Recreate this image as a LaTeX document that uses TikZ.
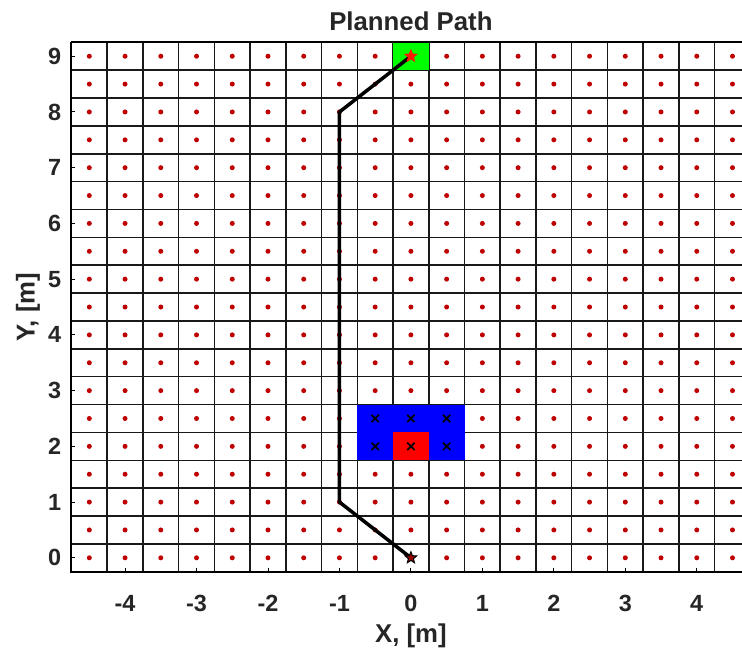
\documentclass[tikz,border=0pt]{standalone}
\usepackage{fontspec}
\setmainfont{Liberation Sans}
\usetikzlibrary{shapes.geometric}

\definecolor{obstblue}{RGB}{0,0,255}
\definecolor{obstred}{RGB}{255,0,0}
\definecolor{goalgreen}{RGB}{0,255,0}
\definecolor{axisgray}{RGB}{38,38,38}

\begin{document}
\begin{tikzpicture}[
  x=2.1438cm, y=1.6719cm,
  gridline/.style={draw=black!90, line width=1.3pt},
  celldot/.style={fill=red!75!black},
  crossmark/.style={draw=black, line width=1.5pt},
  pathline/.style={draw=black, line width=3pt, line join=round},
  ticklabel/.style={font=\fontsize{20}{20}\selectfont\bfseries, text=axisgray, inner sep=0pt},
  axislabel/.style={font=\fontsize{22}{22}\selectfont\bfseries, text=axisgray, inner sep=0pt},
  starmark/.style={star, star points=5, star point ratio=2.3, minimum size=0.36cm,
                   inner sep=0pt, line width=0.9pt}
]
\useasboundingbox (-5.75,-1.726) rectangle (4.633,10.009);
\fill[white] (-5.75,-1.726) rectangle (4.633,10.009);

\begin{scope}
\clip (-5.75,-1.726) rectangle (4.633,10.009);
% cell borders
\foreach \k in {0,...,19}{
  \draw[gridline] (-4.75+0.5*\k,-0.25) -- (-4.75+0.5*\k,9.25);
  \draw[gridline] (-4.75,-0.25+0.5*\k) -- (4.75,-0.25+0.5*\k);
}
% cell centres
\foreach \i in {-9,...,9}
  \foreach \j in {0,...,18}
    \fill[celldot] (0.5*\i,0.5*\j) circle[radius=0.075cm];
% occupied and goal cells
\fill[obstblue] (-0.75,1.75) rectangle (0.75,2.75);
\fill[obstred] (-0.25,1.75) rectangle (0.25,2.25);
\fill[goalgreen] (-0.25,8.75) rectangle (0.25,9.25);
\foreach \cx/\cy in {-0.5/2.5, 0/2.5, 0.5/2.5, -0.5/2, 0/2, 0.5/2}
  \draw[crossmark] (\cx,\cy) +(-0.11cm,-0.11cm) -- +(0.11cm,0.11cm)
                   (\cx,\cy) +(-0.11cm,0.11cm) -- +(0.11cm,-0.11cm);
% frame
\draw[black, line width=1.7pt] (-4.75,9.25) -- (-4.75,-0.25) -- (4.75,-0.25);
\draw[black, line width=1.4pt] (-4.75,9.25) -- (4.75,9.25);
\end{scope}

% ticks
\foreach \t in {-4,...,4}{
  \draw[black, line width=0.8pt] (\t,-0.25) -- ++(0,0.12cm);
  \node[ticklabel] (xt\t) at (\t,-0.81) {\t};
}
\foreach \t in {0,...,9}{
  \draw[black, line width=0.8pt] (-4.75,\t) -- ++(0.12cm,0);
  \node[ticklabel, anchor=east] (yt\t) at (-4.89,\t) {\t};
}

% planned path
\coordinate (start) at (0,0);
\coordinate (turn1) at (-1,1);
\coordinate (turn2) at (-1,8);
\coordinate (goal) at (0,9);
\draw[pathline] (start) -- (turn1) -- (turn2) -- (goal);
\node[starmark, draw=black, fill=red!60!black] (startstar) at (start) {};
\node[starmark, draw=red!80!orange, fill=red!80!orange] (goalstar) at (goal) {};

% labels
\node[axislabel] (xlabel) at (0,-1.40) {X, [m]};
\node[axislabel, rotate=90] (ylabel) at (-5.36,4.5) {Y, [m]};
\node[axislabel] (title) at (0,9.63) {Planned Path};
\end{tikzpicture}
\end{document}
